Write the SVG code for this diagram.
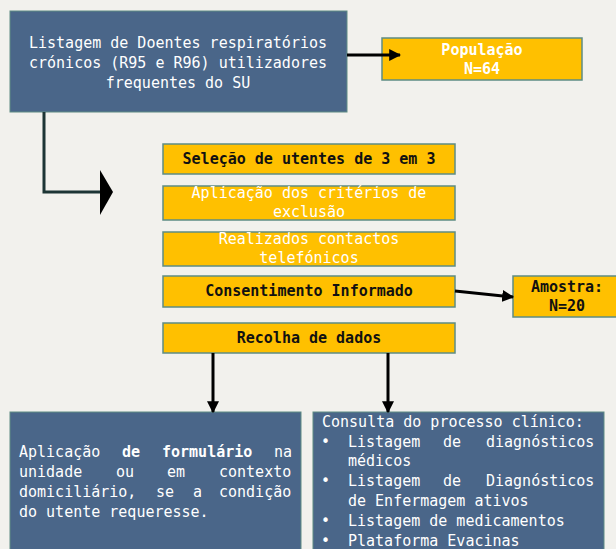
<svg xmlns="http://www.w3.org/2000/svg" width="616" height="549" viewBox="0 0 616 549">
<defs>
<style>
.bg{fill:#f2f1ed}
.blue{fill:#4a6689;stroke:#5e8c84;stroke-width:1}
.yel{fill:#ffc000;stroke:#5e8c84;stroke-width:1.5}
text{font-family:"DejaVu Sans Mono","Liberation Mono",monospace;font-size:15px}
.w{fill:#ffffff}
.k{fill:#111111;font-weight:bold}
.wb{fill:#ffffff;font-weight:bold}
.c{text-anchor:middle}
.ln{stroke:#000;stroke-width:3;fill:none}
</style>
<marker id="ah" viewBox="0 0 10 10" refX="9" refY="5" markerWidth="4" markerHeight="4" markerUnits="strokeWidth" orient="auto">
<path d="M0,0 L10,5 L0,10 z" fill="#000"/>
</marker>
</defs>
<rect class="bg" x="0" y="0" width="616" height="549"/>

<g id="n-listagem">
<rect class="blue" x="10" y="11" width="337" height="101"/>
<text class="w c" x="178" y="48">Listagem de Doentes respiratórios</text>
<text class="w c" x="178" y="68">crónicos (R95 e R96) utilizadores</text>
<text class="w c" x="178" y="88">frequentes do SU</text>
</g>

<g id="n-populacao">
<rect class="yel" x="382" y="38" width="200" height="42"/>
<text class="wb c" x="482" y="55">População</text>
<text class="wb c" x="482" y="74">N=64</text>
</g>

<g id="n-selecao">
<rect class="yel" x="163" y="144" width="292" height="30"/>
<text class="k c" x="309" y="164">Seleção de utentes de 3 em 3</text>
</g>

<g id="n-aplicacao">
<rect class="yel" x="163" y="186" width="292" height="34"/>
<text class="w c" x="309" y="198">Aplicação dos critérios de</text>
<text class="w c" x="309" y="217">exclusão</text>
</g>

<g id="n-contactos">
<rect class="yel" x="163" y="232" width="292" height="34"/>
<text class="w c" x="309" y="244">Realizados contactos</text>
<text class="w c" x="309" y="263">telefónicos</text>
</g>

<g id="n-consentimento">
<rect class="yel" x="163" y="276" width="292" height="31"/>
<text class="k c" x="309" y="296">Consentimento Informado</text>
</g>

<g id="n-amostra">
<rect class="yel" x="513" y="276" width="110" height="41"/>
<text class="k c" x="567" y="292">Amostra:</text>
<text class="k c" x="567" y="311">N=20</text>
</g>

<g id="n-recolha">
<rect class="yel" x="163" y="323" width="292" height="30"/>
<text class="k c" x="309" y="343">Recolha de dados</text>
</g>

<g id="n-formulario">
<rect class="blue" x="10" y="412" width="291" height="145"/>
<text class="w" x="19" y="457">Aplicação</text>
<text class="wb" x="122" y="457">de</text>
<text class="wb" x="162" y="457">formulário</text>
<text class="w" x="274" y="457">na</text>
<text class="w" x="19" y="477">unidade</text>
<text class="w" x="116" y="477">ou</text>
<text class="w" x="167" y="477">em</text>
<text class="w" x="219" y="477">contexto</text>
<text class="w" x="19" y="497">domiciliário,</text>
<text class="w" x="156" y="497">se</text>
<text class="w" x="193" y="497">a</text>
<text class="w" x="219" y="497">condição</text>
<text class="w" x="19" y="517">do utente requeresse.</text>
</g>

<g id="n-consulta">
<rect class="blue" x="313" y="412" width="291" height="145"/>
<text class="w" x="322" y="427">Consulta do processo clínico:</text>
<text class="w" x="321" y="447">•</text>
<text class="w" x="348" y="447">Listagem</text>
<text class="w" x="443" y="447">de</text>
<text class="w" x="486" y="447">diagnósticos</text>
<text class="w" x="348" y="466">médicos</text>
<text class="w" x="321" y="486">•</text>
<text class="w" x="348" y="486">Listagem</text>
<text class="w" x="443" y="486">de</text>
<text class="w" x="486" y="486">Diagnósticos</text>
<text class="w" x="348" y="506">de Enfermagem ativos</text>
<text class="w" x="321" y="526">•</text>
<text class="w" x="348" y="526">Listagem de medicamentos</text>
<text class="w" x="321" y="546">•</text>
<text class="w" x="348" y="546">Plataforma Evacinas</text>
</g>

<g id="connectors">
<line class="ln" x1="347" y1="55" x2="400" y2="55" marker-end="url(#ah)"/>
<polyline points="44,112 44,192 101,192" fill="none" stroke="#1d3535" stroke-width="3"/>
<polygon points="100,170 113,192 100,215" fill="#000"/>
<line class="ln" x1="455" y1="291" x2="513" y2="297" marker-end="url(#ah)"/>
<line class="ln" x1="213" y1="353" x2="213" y2="412" marker-end="url(#ah)"/>
<line class="ln" x1="388" y1="353" x2="388" y2="412" marker-end="url(#ah)"/>
</g>
</svg>
